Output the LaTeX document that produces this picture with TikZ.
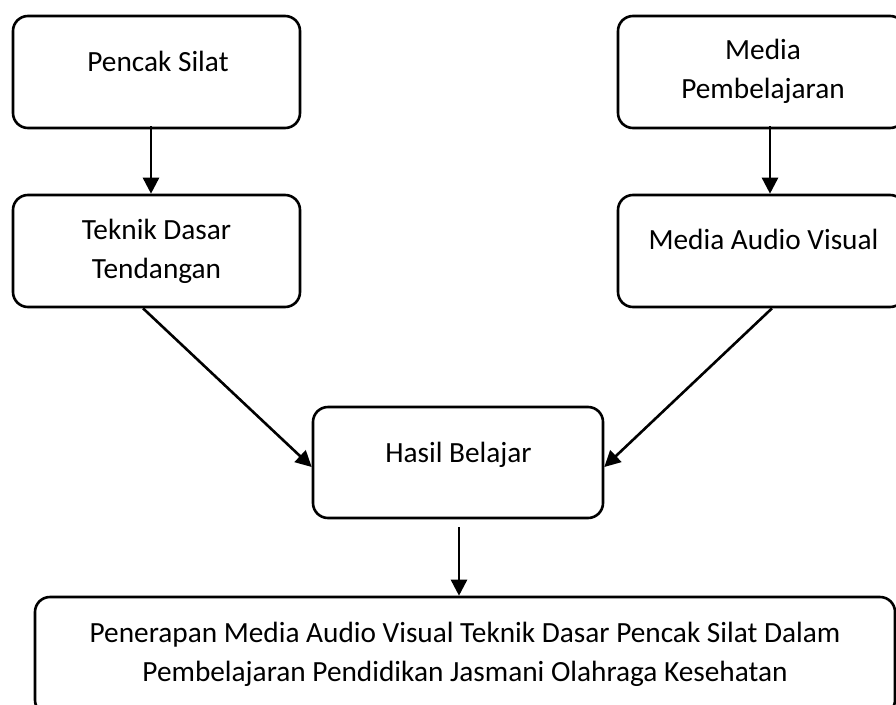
\documentclass[tikz,border=0pt]{standalone}
\usepackage{fontspec}
\setmainfont{Carlito}
\usetikzlibrary{arrows.meta}
\tikzset{
  box/.style={draw=black, line width=2.6pt, rounded corners=15pt, inner sep=0pt},
  lbl/.style={font=\fontsize{29.3}{38.5}\selectfont, align=center, inner sep=0pt, anchor=base},
  arr/.style={line width=2.6pt, -{Triangle[length=16pt,width=16pt]}}
}
\begin{document}
\begin{tikzpicture}[x=1pt,y=-1pt]
\useasboundingbox (0,0) rectangle (896,704);
\clip (0,0) rectangle (896,704);
\fill[white] (0,0) rectangle (896,704);
% boxes
\node[box, minimum width=287pt, minimum height=112pt] (b1) at (156.5,72) {};
\node[box, minimum width=287pt, minimum height=112pt] (b2) at (156.5,251) {};
\node[box, minimum width=287pt, minimum height=112pt] (b3) at (761.5,72) {};
\node[box, minimum width=287pt, minimum height=112pt] (b4) at (761.5,251) {};
\node[box, minimum width=290pt, minimum height=111pt] (hb) at (458,462.5) {};
\node[box, minimum width=860pt, minimum height=118pt] (pj) at (465,656) {};
% texts (anchor=base: baseline of the last line)
\node[lbl] (t1) at (158,71) {Pencak Silat};
\node[lbl] (t2) at (156.5,278) {Teknik Dasar\\Tendangan};
\node[lbl] (t3) at (763,98) {Media\\Pembelajaran};
\node[lbl] (t4) at (763.5,249) {Media Audio Visual};
\node[lbl] (t5) at (458.5,462) {Hasil Belajar};
\node[lbl] (t6) at (465,681) {Penerapan Media Audio Visual Teknik Dasar Pencak Silat Dalam\\Pembelajaran Pendidikan Jasmani Olahraga Kesehatan};
% connectors
\draw[arr] ([xshift=-5.5pt,yshift=3pt]b1.south) -- ([xshift=-5.5pt]b2.north);
\draw[arr] ([xshift=8.5pt,yshift=3pt]b3.south) -- ([xshift=8.5pt]b4.north);
\draw[arr] ([xshift=-13.5pt]b2.south) -- ([yshift=-4.5pt]hb.west);
\draw[arr] ([xshift=10.5pt]b4.south) -- ([yshift=-4.5pt]hb.east);
\draw[arr] ([xshift=1pt,yshift=-8pt]hb.south) -- ([xshift=1pt]hb.south |- pj.north);
\end{tikzpicture}
\end{document}
